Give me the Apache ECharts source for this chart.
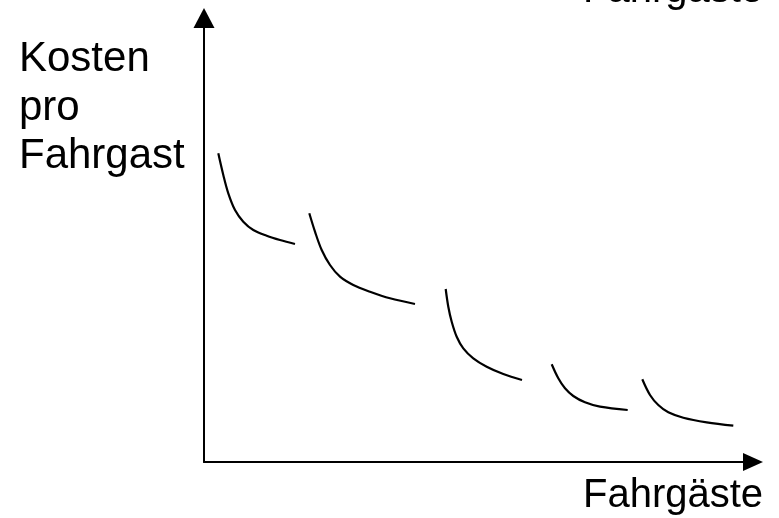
<!DOCTYPE html>
<html>
<head>
<meta charset="utf-8">
<script src="https://cdn.jsdelivr.net/npm/echarts@6/dist/echarts.min.js"></script>
<style>html,body{margin:0;padding:0;background:#fff}#c{width:779px;height:518px}</style>
</head>
<body>
<div id="c"></div>
<script>
// Conceptual chart: cost per passenger vs. passengers (step-wise falling cost curves)
var yAxisTitle = ['Kosten', 'pro', 'Fahrgast'];
var xAxisTitle = 'Fahrgäste';
var curve1 = [[14.3,308.7],[19.3,287],[24.3,268.7],[31,252],[39.3,240.3],[49.3,232],[62.7,226.3],[76,222],[91,218]];
var curve2 = [[105.3,248.7],[111,230.3],[117.7,212],[126,197],[136,185.3],[149.3,177],[166,170.3],[186,163.7],[211,158]];
var curve3 = [[241.7,173],[244.3,155.3],[247.7,140.3],[252.7,125.3],[259.3,113.7],[269.3,103.7],[282.7,95.3],[299.3,88],[318,82]];
var curve4 = [[347.7,97.7],[354.3,83.7],[361,73.7],[369.3,66],[381,59.7],[396,55.3],[423.7,52]];
var curve5 = [[438.3,82.7],[446,67],[454.3,57],[464.3,49.7],[479.3,44.3],[502.7,39.7],[529.3,36.3]];
var curves = [curve1, curve2, curve3, curve4, curve5];

var chart = echarts.init(document.getElementById('c'), null, {renderer: 'canvas'});
var FONT = '"Liberation Sans", Arial, sans-serif';
chart.setOption({
  animation: false,
  grid: {left: 204, right: 26, top: 18, bottom: 56},
  xAxis: {
    type: 'value', min: 0, max: 549,
    axisLine: {show: true, symbol: ['none', 'triangle'], symbolSize: [18, 20], lineStyle: {color: '#000', width: 2}},
    axisTick: {show: false}, axisLabel: {show: false}, splitLine: {show: false}
  },
  yAxis: {
    type: 'value', min: 0, max: 444,
    axisLine: {show: true, symbol: ['none', 'triangle'], symbolSize: [21, 20], lineStyle: {color: '#000', width: 2}},
    axisTick: {show: false}, axisLabel: {show: false}, splitLine: {show: false}
  },
  series: curves.map(function (d) {
    return {
      type: 'line', data: d, smooth: 0.35, showSymbol: false, symbol: 'none',
      lineStyle: {color: '#000', width: 2.2}, silent: true
    };
  }),
  graphic: [
    {type: 'text', style: {text: yAxisTitle.join('\n'), x: 19, y: 108, font: '42px ' + FONT, lineHeight: 48.5, fill: '#000', align: 'left', verticalAlign: 'middle'}},
    {type: 'text', style: {text: xAxisTitle, x: 583, y: 496, font: '40px ' + FONT, fill: '#000', align: 'left', verticalAlign: 'middle'}},
    {type: 'text', style: {text: xAxisTitle, x: 583, y: -9, font: '40px ' + FONT, fill: '#000', align: 'left', verticalAlign: 'middle'}}
  ]
});
</script>
</body>
</html>
